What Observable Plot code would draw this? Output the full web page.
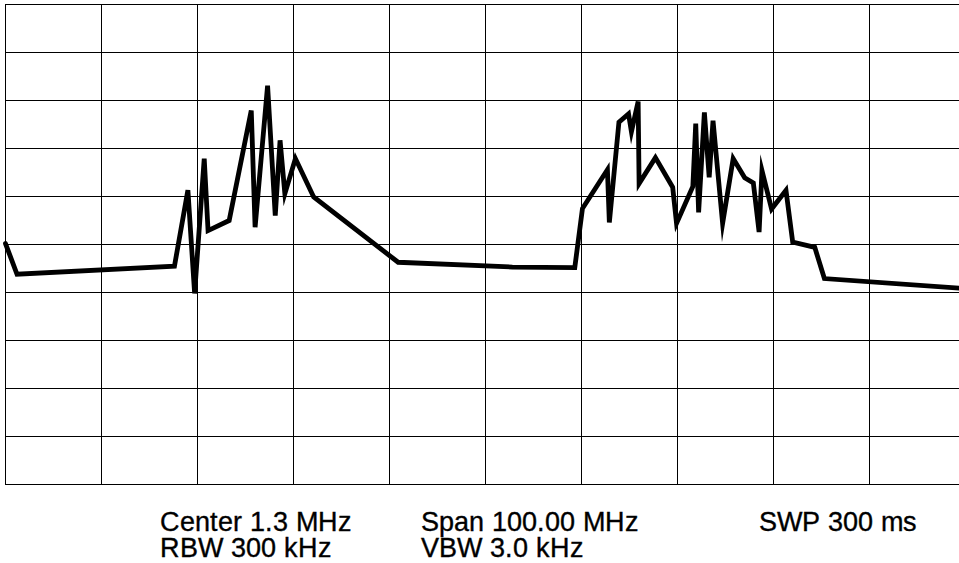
<!DOCTYPE html>
<html>
<head>
<meta charset="utf-8">
<script src="https://cdn.jsdelivr.net/npm/d3@7"></script>
<script src="https://cdn.jsdelivr.net/npm/@observablehq/plot@0.6"></script>
<style>
  @font-face {
    font-family: "LblSans";
    src: local("Liberation Sans"), local("LiberationSans"), local("Arimo");
    ascent-override: 80%;
    descent-override: 15%;
    line-gap-override: 0%;
  }
  html, body { margin: 0; padding: 0; background: #fff; overflow: hidden; }
  #wrap { position: relative; width: 959px; height: 563px; overflow: hidden; }
  .lbl { position: absolute; font-family: "LblSans", "Liberation Sans", Arial, sans-serif; font-size: 26.6px; line-height: 26.5px; height: 26.5px; color: #000; white-space: pre; -webkit-text-stroke: 0.35px #000; }
</style>
</head>
<body>
<div id="wrap">
  <div id="chart"></div>
  <div class="lbl" style="left:160px; top:509.8px;">Center 1.3 MHz</div>
  <div class="lbl" style="left:160px; top:536.3px;">RBW 300 kHz</div>
  <div class="lbl" style="left:421px; top:509.8px;">Span 100.00 MHz</div>
  <div class="lbl" style="left:421px; top:536.3px;">VBW 3.0 kHz</div>
  <div class="lbl" style="left:759px; top:509.8px;">SWP 300 ms</div>
</div>
<script>
// Frequency (MHz) of each trace point, start -48.7 MHz .. stop 51.3 MHz
const freqMHz = [-48.7, -47.5, -31.1, -29.7, -29.0, -28.0, -27.6, -25.4, -23.1, -22.7,
  -21.4, -20.6, -20.1, -19.6, -18.5, -16.6, -7.8, 4.1, 10.6, 11.4,
  14.0, 14.2, 15.2, 16.2, 16.5, 17.2, 17.3, 19.0, 20.8, 21.2,
  22.9, 23.2, 23.5, 24.1, 24.6, 25.0, 26.0, 27.1, 28.3, 29.2,
  29.8, 30.1, 31.1, 32.6, 33.3, 35.6, 36.6, 51.3];
// Level (dB relative to reference) of each trace point
const levelDb = [-49.8, -56.2, -54.5, -38.7, -60.2, -32.1, -47.1, -45.0, -22.1, -46.4,
  -16.9, -44.0, -28.3, -39.4, -32.1, -40.1, -53.7, -54.7, -54.8, -42.5,
  -34.4, -45.4, -24.5, -22.8, -26.5, -20.2, -37.3, -31.9, -38.1, -45.6,
  -37.9, -24.8, -43.3, -22.5, -36.0, -24.2, -45.6, -32.1, -36.1, -37.2,
  -47.4, -34.6, -42.6, -38.7, -49.5, -50.6, -57.1, -59.2];
// Graticule: 10 divisions of 10 MHz horizontally, 10 divisions of 10 dB vertically
const freqTicks = [-48.7, -38.7, -28.7, -18.7, -8.7, 1.3, 11.3, 21.3, 31.3, 41.3, 51.3];
const levelTicks = [0, -10, -20, -30, -40, -50, -60, -70, -80, -90, -100];

const trace = freqMHz.map((f, i) => ({f, db: levelDb[i]}));

const chart = Plot.plot({
  width: 959,
  height: 490,
  marginTop: 4,
  marginBottom: 6,
  marginLeft: 5,
  marginRight: -6,
  x: {domain: [-48.7, 51.3], range: [5, 965], axis: null},
  y: {domain: [-100, 0], range: [484, 4], axis: null},
  marks: [
    Plot.ruleX(freqTicks, {x: d => d, y1: -100, y2: 0, stroke: "#000", strokeWidth: 1}),
    Plot.ruleY(levelTicks, {y: d => d, x1: -48.7, x2: 51.3, stroke: "#000", strokeWidth: 1}),
    Plot.line(trace, {x: "f", y: "db", stroke: "#000", strokeWidth: 4.8,
      strokeLinejoin: "miter", strokeMiterlimit: 8, curve: "linear"})
  ]
});
chart.style.overflow = "hidden";
document.getElementById("chart").appendChild(chart);
</script>
</body>
</html>
